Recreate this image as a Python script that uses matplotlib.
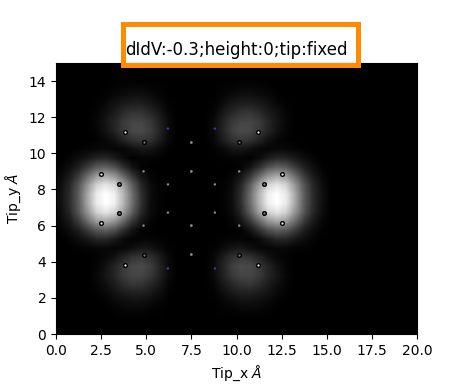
import numpy as np
import matplotlib
matplotlib.use("Agg")
import matplotlib.pyplot as plt
from matplotlib.patches import Rectangle

# Upper-left quadrant of the map, rows y=7.75..14.75, columns x=0.25..7.25
quadrant = np.array([
 [.06,.17,.36,.65,.92,1.0,.94,.70,.42,.18,.05,.01,0,0,0],
 [.05,.15,.33,.58,.82,.90,.83,.62,.36,.15,.04,.01,0,0,0],
 [.03,.10,.23,.42,.60,.66,.58,.40,.21,.08,.02,0,0,0,0],
 [.01,.05,.12,.23,.34,.37,.31,.18,.07,.01,0,0,0,0,0],
 [0,.02,.05,.09,.14,.15,.10,.04,.01,.02,.02,.01,0,0,0],
 [0,0,.01,.02,.03,.03,.02,.03,.06,.09,.08,.04,.01,0,0],
 [0,0,0,0,.01,.03,.07,.14,.20,.22,.19,.11,.03,0,0],
 [0,0,0,0,.02,.07,.14,.22,.28,.29,.24,.14,.04,0,0],
 [0,0,0,0,.03,.08,.15,.23,.27,.27,.22,.13,.04,0,0],
 [0,0,0,0,.02,.06,.11,.17,.21,.20,.15,.09,.02,0,0],
 [0,0,0,0,.01,.03,.07,.10,.12,.12,.09,.05,.01,0,0],
 [0,0,0,0,0,.01,.03,.05,.06,.06,.04,.02,0,0,0],
 [0,0,0,0,0,0,.01,.02,.02,.02,.01,.01,0,0,0],
 [0]*15,
 [0]*15,
])

# Atom positions in the same quadrant (mirrored about x=7.5, y=7.5)
ringed_light_x = [3.8, 2.5]
ringed_light_y = [11.2, 8.88]
ringed_dark_x = [4.85, 3.5]
ringed_dark_y = [10.6, 8.3]
small_x = [4.85, 6.2, 7.5, 7.5]
small_y = [9.0, 8.28, 10.6, 9.0]
blue_x = [6.2]
blue_y = [11.37]

title = "dIdV:-0.3;height:0;tip:fixed"
xlabel = "Tip_x $\\AA$"
ylabel = "Tip_y $\\AA$"


def mirror(xs, ys):
    xs, ys = np.array(xs), np.array(ys)
    return (np.concatenate([xs, 15 - xs, xs, 15 - xs]),
            np.concatenate([ys, ys, 15 - ys, 15 - ys]))


upper = np.hstack([quadrant, quadrant[:, ::-1], np.zeros((15, 10))])
grid = np.vstack([upper[::-1], upper])

fig = plt.figure(figsize=(4.61, 3.89), dpi=100)
ax = fig.add_axes([56 / 461, 1 - 334 / 389, 361 / 461, 271 / 389])
ax.imshow(grid, origin="lower", extent=[0, 20, 0, 15], cmap="gray",
          vmin=0, vmax=1, aspect="auto", interpolation="bilinear")

x, y = mirror(ringed_light_x, ringed_light_y)
ax.scatter(x, y, s=7, c="0.9", edgecolors="black", linewidths=1, zorder=3)
x, y = mirror(ringed_dark_x, ringed_dark_y)
ax.scatter(x, y, s=7, c="0.45", edgecolors="black", linewidths=1, zorder=3)
x, y = mirror(small_x, small_y)
ax.scatter(x, y, s=3, c="0.55", edgecolors="none", zorder=3)
x, y = mirror(blue_x, blue_y)
ax.scatter(x, y, s=3, c="#2a3fc0", edgecolors="none", zorder=3)

ax.set_xlim(0, 20)
ax.set_ylim(0, 15)
ax.set_xlabel(xlabel)
ax.set_ylabel(ylabel)
ax.set_title(title, fontsize=12)

frame = Rectangle((122.5 / 461, 1 - 64.5 / 389), 235.5 / 461, 40 / 389,
                  transform=fig.transFigure, fill=False, edgecolor="darkorange",
                  linewidth=3.6, clip_on=False, zorder=10)
ax.add_patch(frame)

fig.savefig("out.png", dpi=100)
